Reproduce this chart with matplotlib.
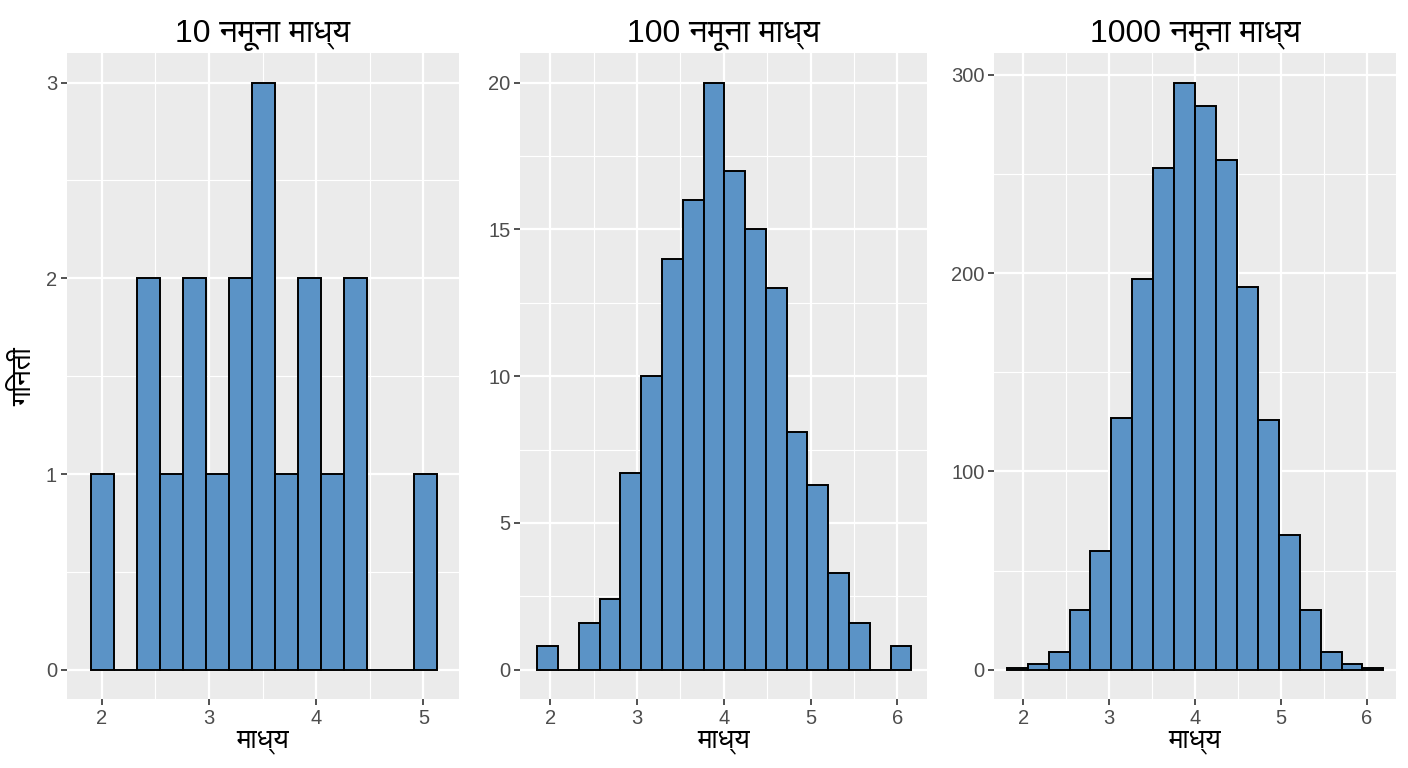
import numpy as np
import matplotlib.pyplot as plt
from matplotlib import font_manager
from matplotlib.ft2font import FT2Font
from matplotlib.ticker import MultipleLocator

# look for a font that has Devanagari glyphs, prefer a sans one
deva_fonts = []
for f in font_manager.fontManager.ttflist:
    try:
        if 0x0928 in FT2Font(f.fname).get_charmap():
            deva_fonts.append(f.name)
    except Exception:
        pass
deva_fonts.sort(key=lambda n: (('Mono' in n) or ('Serif' in n), 'Sans' not in n))
plt.rcParams['font.family'] = ['Liberation Sans'] + deva_fonts[:1] + ['DejaVu Sans']

# Data
titles = ['10 नमूना माध्य', '100 नमूना माध्य', '1000 नमूना माध्य']
x_label = 'माध्य'
y_label = 'गिनती'

# panel 1: 15 bins
start_10 = 1.897
width_10 = 0.215
counts_10 = [1, 0, 2, 1, 2, 1, 2, 3, 1, 2, 1, 2, 0, 0, 1]

# panel 2: 18 bins
start_100 = 1.850
width_100 = 0.2396
counts_100 = [0.8, 0, 1.6, 2.4, 6.7, 10, 14, 16, 20, 17, 15, 13, 8.1, 6.3, 3.3, 1.6, 0, 0.8]

# panel 3: 18 bins
start_1000 = 1.807
width_1000 = 0.2437
counts_1000 = [1, 3, 9, 30, 60, 127, 197, 253, 296, 284, 257, 193, 126, 68, 30, 9, 3, 1]

x_ticks = [[2, 3, 4, 5], [2, 3, 4, 5, 6], [2, 3, 4, 5, 6]]
y_steps = [1, 5, 100]
x_limits = [(1.673, 5.334), (1.65, 6.34), (1.662, 6.338)]
y_limits = [(-0.15, 3.15), (-1.0, 21.0), (-14.8, 310.8)]

panels = [(start_10, width_10, counts_10),
          (start_100, width_100, counts_100),
          (start_1000, width_1000, counts_1000)]

# axes positions in figure fractions
lefts = [0.0474, 0.3693, 0.7062]
widths = [0.2788, 0.2889, 0.2851]
bottom = 0.0898
height = 0.8408

fig = plt.figure(figsize=(14.08, 7.68), dpi=100)

for i, (start, w, counts) in enumerate(panels):
    ax = fig.add_axes([lefts[i], bottom, widths[i], height])
    ax.set_facecolor('#EBEBEB')
    bin_lefts = start + w * np.arange(len(counts))
    ax.bar(bin_lefts, counts, width=w, align='edge', color='#5B93C6',
           edgecolor='black', linewidth=1.4, zorder=3)

    ax.set_xlim(*x_limits[i])
    ax.set_ylim(*y_limits[i])
    ax.set_xticks(x_ticks[i])
    ax.yaxis.set_major_locator(MultipleLocator(y_steps[i]))
    ax.xaxis.set_minor_locator(MultipleLocator(0.5))
    ax.yaxis.set_minor_locator(MultipleLocator(y_steps[i] / 2))

    ax.grid(which='major', color='white', linewidth=1.6, zorder=0)
    ax.grid(which='minor', color='white', linewidth=0.8, zorder=0)
    ax.set_axisbelow(True)
    for s in ax.spines.values():
        s.set_visible(False)

    ax.tick_params(which='major', length=4, width=1.2, color='#333333',
                   labelsize=14.5, labelcolor='#4D4D4D', pad=3)
    ax.tick_params(which='minor', length=0)

    ax.set_title(titles[i], fontsize=23, pad=8)
    ax.set_xlabel(x_label, fontsize=20, labelpad=0)
    if i == 0:
        ax.set_ylabel(y_label, fontsize=20, labelpad=6)

fig.savefig('out.png', dpi=100, facecolor='white')
